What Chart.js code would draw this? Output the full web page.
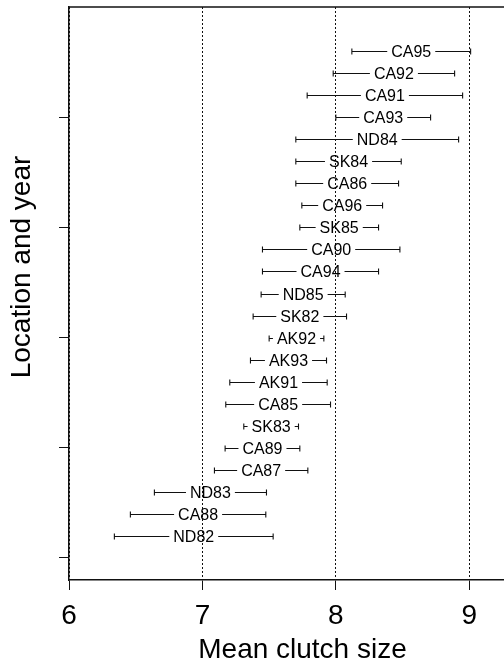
<!DOCTYPE html>
<html>
<head>
<meta charset="utf-8">
<script src="https://cdn.jsdelivr.net/npm/chart.js@4"></script>
<style>
  html, body { margin: 0; padding: 0; background: #fff; overflow: hidden; }
  .wrap { width: 540px; height: 667px; position: relative; }
</style>
</head>
<body>
<div class="wrap"><canvas class="my-chart"></canvas></div>
<script>
// sites listed top to bottom, with the interval ends
const sites = ["CA95", "CA92", "CA91", "CA93", "ND84", "SK84", "CA86", "CA96", "SK85", "CA90", "CA94", "ND85",
  "SK82", "AK92", "AK93", "AK91", "CA85", "SK83", "CA89", "CA87", "ND83", "CA88", "ND82"];
const lowerCI = [8.12, 7.98, 7.785, 8.0, 7.70, 7.70, 7.70, 7.745, 7.73, 7.45, 7.45, 7.44,
  7.38, 7.50, 7.36, 7.205, 7.175, 7.31, 7.17, 7.09, 6.64, 6.46, 6.34];
const upperCI = [9.01, 8.89, 8.95, 8.71, 8.92, 8.49, 8.47, 8.35, 8.32, 8.48, 8.32, 8.07,
  8.08, 7.91, 7.93, 7.935, 7.96, 7.72, 7.73, 7.79, 7.48, 7.475, 7.53];
const xTicks = [6, 7, 8, 9];
const yTicks = [0, 5, 10, 15, 20];

const FONT = '"Liberation Sans", Arial, sans-serif';

const intervalPlugin = {
  id: "intervals",
  afterDatasetsDraw(chart) {
    const { ctx, chartArea, scales: { x, y } } = chart;
    ctx.save();
    ctx.strokeStyle = "#111";
    ctx.lineWidth = 1.1;
    ctx.fillStyle = "#000";
    ctx.font = "16px " + FONT;
    ctx.textAlign = "center";
    ctx.textBaseline = "middle";
    sites.forEach((name, i) => {
      const py = Math.round(y.getPixelForValue(sites.length - i)) + 0.5;
      const x0 = x.getPixelForValue(lowerCI[i]);
      const x1 = x.getPixelForValue(upperCI[i]);
      const mid = (x0 + x1) / 2;
      const half = ctx.measureText(name).width / 2 + 4;
      ctx.beginPath();
      ctx.moveTo(x0, py);
      ctx.lineTo(Math.max(x0, mid - half), py);
      ctx.moveTo(Math.min(x1, mid + half), py);
      ctx.lineTo(x1, py);
      ctx.moveTo(x0, py - 3);
      ctx.lineTo(x0, py + 3);
      ctx.moveTo(x1, py - 3);
      ctx.lineTo(x1, py + 3);
      ctx.stroke();
      ctx.fillText(name, mid, py + 1);
    });

    // top edge of the frame
    ctx.strokeStyle = "#111";
    ctx.lineWidth = 1.5;
    ctx.beginPath();
    ctx.moveTo(chartArea.left, chartArea.top);
    ctx.lineTo(chartArea.right, chartArea.top);
    ctx.stroke();

    // y axis title
    ctx.translate(30, 267);
    ctx.rotate(-Math.PI / 2);
    ctx.font = "28px " + FONT;
    ctx.textBaseline = "alphabetic";
    ctx.fillText("Location and year", 0, 0);
    ctx.restore();
  },
};

new Chart(document.querySelector(".my-chart"), {
  type: "scatter",
  data: {
    datasets: [
      {
        label: "Mean clutch size",
        data: sites.map((s, i) => ({ x: (lowerCI[i] + upperCI[i]) / 2, y: sites.length - i })),
        pointRadius: 0,
      },
    ],
  },
  options: {
    responsive: true,
    maintainAspectRatio: false,
    animation: false,
    layout: { padding: { top: 7, right: 4, left: 0, bottom: 0 } },
    plugins: { legend: { display: false }, tooltip: { enabled: false } },
    scales: {
      x: {
        type: "linear",
        min: 6,
        max: 9.5,
        afterBuildTicks: (s) => { s.ticks = xTicks.map((v) => ({ value: v })); },
        afterFit: (s) => { s.height = 87; },
        ticks: { color: "#000", font: { family: FONT, size: 28 }, padding: 9 },
        grid: { color: "#111", lineWidth: 1, tickLength: 10, tickColor: "#111", tickBorderDash: [] },
        border: { display: true, color: "#111", width: 1.5, dash: [2, 2] },
        title: {
          display: true,
          text: "Mean clutch size",
          color: "#000",
          font: { family: FONT, size: 28 },
          padding: { top: 0, bottom: 0 },
        },
      },
      y: {
        type: "linear",
        min: -1,
        max: 25,
        afterBuildTicks: (s) => { s.ticks = yTicks.map((v) => ({ value: v })); },
        afterFit: (s) => { s.width = 69; },
        ticks: { display: false },
        grid: { drawOnChartArea: false, drawTicks: true, tickLength: 10, tickColor: "#111" },
        border: { display: true, color: "#111", width: 1.5 },
      },
    },
  },
  plugins: [intervalPlugin],
});
</script>
</body>
</html>
